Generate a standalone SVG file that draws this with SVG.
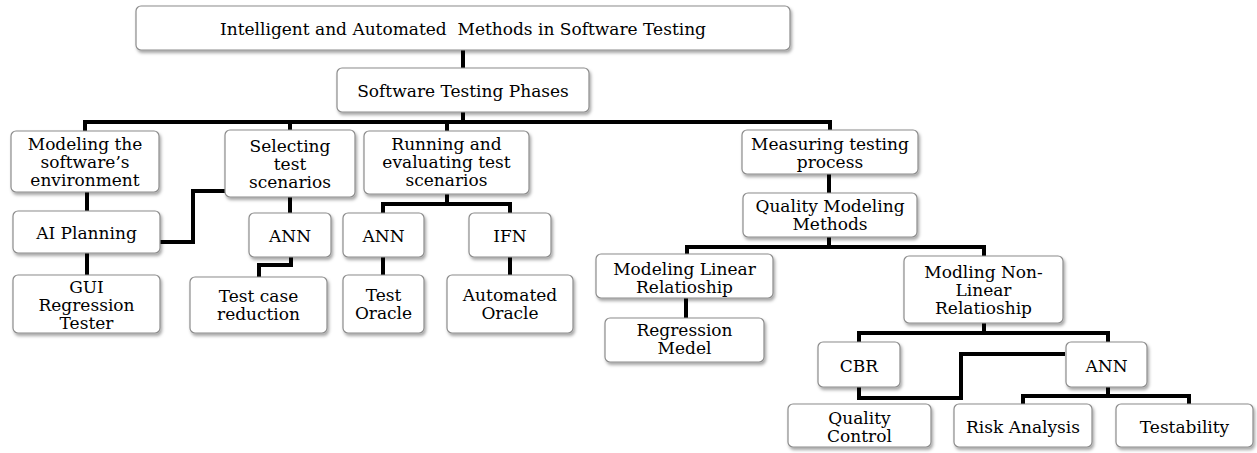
<svg xmlns="http://www.w3.org/2000/svg" width="1257" height="453" viewBox="0 0 1257 453">
<style>
.box{fill:#ffffff;stroke:#8c8c8c;stroke-width:1.2;filter:url(#sh)}
text{font-family:"DejaVu Serif","Liberation Serif",serif;font-size:17px;fill:#000;text-anchor:middle}
.c{fill:none;stroke:#000;stroke-width:4;stroke-linejoin:miter}
</style>
<defs>
<filter id="sh" x="-10%" y="-10%" width="130%" height="140%">
<feDropShadow dx="1.5" dy="2.5" stdDeviation="1.5" flood-color="#000" flood-opacity="0.35"/>
</filter>
</defs>
<g id="connectors">
<path class="c" d="M463,50 V68"/>
<path class="c" d="M463,112 V122 M85,131 V122 H830 V130 M290,122 V130 M447,122 V131"/>
<path class="c" d="M87,192 V211 M87,253 V275"/>
<path class="c" d="M160,242 H193 V191 H226"/>
<path class="c" d="M290,197 V213 M291,257 V265 H259 V277"/>
<path class="c" d="M447,194 V204 M383,213 V204 H510 V213 M383,257 V275 M510,257 V275"/>
<path class="c" d="M829,174 V193 M829,237 V247 M687,254 V247 H984 V256 M686,298 V318"/>
<path class="c" d="M984,323 V333 M859,342 V333 H1108 V342"/>
<path class="c" d="M859,387 V398 H961 V354 H1065"/>
<path class="c" d="M1108,387 V396 M1023,404 V396 H1189 V404"/>
</g>
<g id="n-title"><rect class="box" x="136" y="6" width="654" height="44" rx="5"/><text x="463" y="35" xml:space="preserve">Intelligent and Automated  Methods in Software Testing</text></g>
<g id="n-phases"><rect class="box" x="337" y="68" width="252" height="44" rx="5"/><text x="463" y="97">Software Testing Phases</text></g>
<g id="n-modenv"><rect class="box" x="11" y="131" width="148" height="61" rx="5"/><text x="85" y="150">Modeling the</text><text x="85" y="168">software’s</text><text x="85" y="186">environment</text></g>
<g id="n-select"><rect class="box" x="225" y="130" width="130" height="67" rx="5"/><text x="290" y="152">Selecting</text><text x="290" y="170">test</text><text x="290" y="188">scenarios</text></g>
<g id="n-running"><rect class="box" x="364" y="131" width="165" height="63" rx="5"/><text x="446.5" y="150">Running and</text><text x="446.5" y="168">evaluating test</text><text x="446.5" y="186">scenarios</text></g>
<g id="n-measure"><rect class="box" x="742" y="130" width="176" height="44" rx="5"/><text x="830" y="150">Measuring testing</text><text x="830" y="168">process</text></g>
<g id="n-aiplan"><rect class="box" x="13" y="211" width="147" height="42" rx="5"/><text x="86.5" y="239">AI Planning</text></g>
<g id="n-ann1"><rect class="box" x="249" y="213" width="82" height="44" rx="5"/><text x="290" y="242">ANN</text></g>
<g id="n-ann2"><rect class="box" x="343" y="213" width="81" height="44" rx="5"/><text x="383.5" y="242">ANN</text></g>
<g id="n-ifn"><rect class="box" x="469" y="213" width="82" height="44" rx="5"/><text x="510" y="242">IFN</text></g>
<g id="n-qmm"><rect class="box" x="743" y="193" width="174" height="44" rx="5"/><text x="830" y="212">Quality Modeling</text><text x="830" y="230">Methods</text></g>
<g id="n-gui"><rect class="box" x="13" y="275" width="147" height="58" rx="5"/><text x="86.5" y="293">GUI</text><text x="86.5" y="311">Regression</text><text x="86.5" y="329">Tester</text></g>
<g id="n-tcr"><rect class="box" x="190" y="277" width="137" height="56" rx="5"/><text x="258.5" y="302">Test case</text><text x="258.5" y="320">reduction</text></g>
<g id="n-toracle"><rect class="box" x="343" y="275" width="81" height="58" rx="5"/><text x="383.5" y="301">Test</text><text x="383.5" y="319">Oracle</text></g>
<g id="n-aoracle"><rect class="box" x="447" y="275" width="126" height="58" rx="5"/><text x="510" y="301">Automated</text><text x="510" y="319">Oracle</text></g>
<g id="n-mlr"><rect class="box" x="596" y="254" width="177" height="44" rx="5"/><text x="684.5" y="275">Modeling Linear</text><text x="684.5" y="293">Relatioship</text></g>
<g id="n-rm"><rect class="box" x="605" y="318" width="159" height="44" rx="5"/><text x="684.5" y="336">Regression</text><text x="684.5" y="354">Medel</text></g>
<g id="n-mnl"><rect class="box" x="904" y="256" width="159" height="67" rx="5"/><text x="983.5" y="278">Modling Non-</text><text x="983.5" y="296">Linear</text><text x="983.5" y="314">Relatioship</text></g>
<g id="n-cbr"><rect class="box" x="818" y="342" width="82" height="45" rx="5"/><text x="859" y="372">CBR</text></g>
<g id="n-ann3"><rect class="box" x="1066" y="342" width="81" height="45" rx="5"/><text x="1106.5" y="372">ANN</text></g>
<g id="n-qc"><rect class="box" x="788" y="404" width="143" height="43" rx="5"/><text x="859.5" y="424">Quality</text><text x="859.5" y="442">Control</text></g>
<g id="n-risk"><rect class="box" x="954" y="404" width="138" height="43" rx="5"/><text x="1023" y="433">Risk Analysis</text></g>
<g id="n-test"><rect class="box" x="1116" y="404" width="137" height="43" rx="5"/><text x="1184.5" y="433">Testability</text></g>
</svg>
